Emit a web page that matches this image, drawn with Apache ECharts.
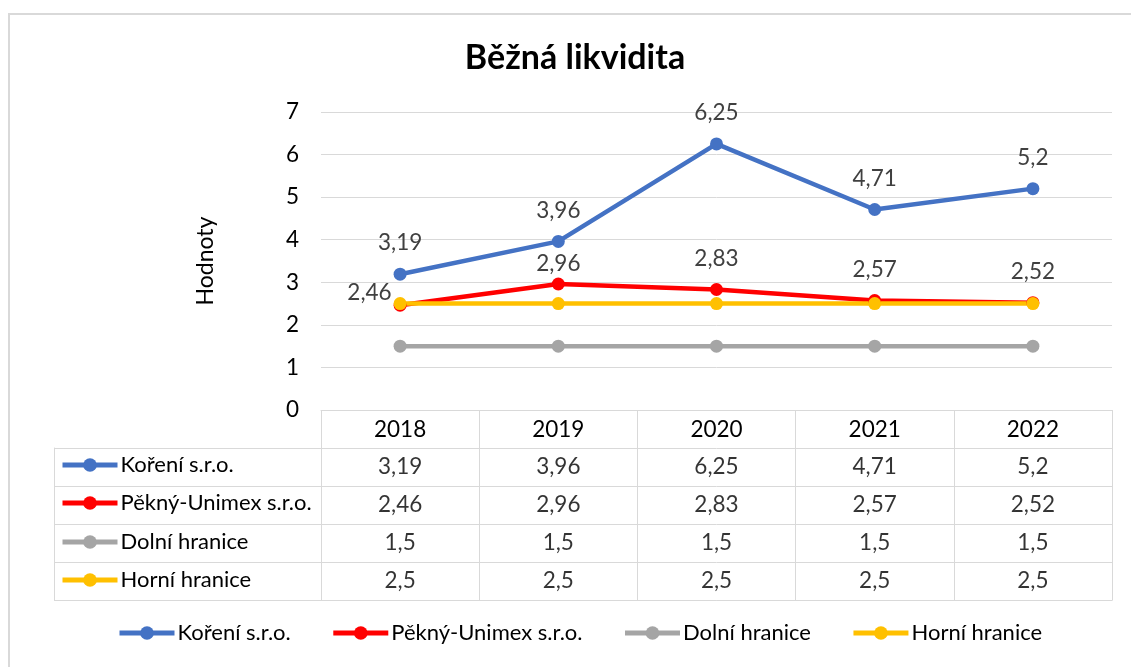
<!DOCTYPE html>
<html>
<head>
<meta charset="utf-8">
<script src="https://cdn.jsdelivr.net/npm/echarts@6/dist/echarts.min.js"></script>
<style>
  html, body { margin: 0; padding: 0; background: #fff; }
  #frame { position: absolute; left: 8px; top: 13px; width: 1200px; height: 700px; border: 2px solid #d9d9d9; box-sizing: border-box; }
  #main { position: absolute; left: 0; top: 0; width: 1131px; height: 667px; }
</style>
</head>
<body>
<div id="frame"></div>
<div id="main"></div>
<script>
// data
var years = ['2018', '2019', '2020', '2021', '2022'];
var seriesNames = ['Koření s.r.o.', 'Pěkný-Unimex s.r.o.', 'Dolní hranice', 'Horní hranice'];
var koreni = [3.19, 3.96, 6.25, 4.71, 5.2];
var pekny = [2.46, 2.96, 2.83, 2.57, 2.52];
var dolni = [1.5, 1.5, 1.5, 1.5, 1.5];
var horni = [2.5, 2.5, 2.5, 2.5, 2.5];
var yTicks = [0, 1, 2, 3, 4, 5, 6, 7];

var colors = ['#4472C4', '#FF0000', '#A5A5A5', '#FFC000'];
var allValues = [koreni, pekny, dolni, horni];
var FONT = 'Lato';
var FS = 22.5;
var gridColor = '#d9d9d9';

function fmt(v) { return String(v).replace('.', ','); }

// cells of the data table: [yearIndex, rowIndex, value]
var tableCells = [];
allValues.forEach(function (vals, r) {
  vals.forEach(function (v, c) { tableCells.push([c, r, v]); });
});

var rowCenters = [466, 504, 543, 581];

var myChart = echarts.init(document.getElementById('main'));

var lineSeries = allValues.map(function (vals, i) {
  var s = {
    name: seriesNames[i],
    type: 'line',
    xAxisIndex: 0,
    yAxisIndex: 0,
    data: vals,
    symbol: 'circle',
    symbolSize: 13,
    lineStyle: { width: 4.5, color: colors[i] },
    itemStyle: { color: colors[i] },
    label: { show: false }
  };
  if (i === 0) {
    s.label = { show: true, position: 'top', distance: 13, fontFamily: FONT, fontSize: FS, color: '#404040', formatter: function (p) { return fmt(p.value); } };
  }
  if (i === 1) {
    s.label = { show: true, position: 'top', distance: 13, fontFamily: FONT, fontSize: FS, color: '#404040', formatter: function (p) { return fmt(p.value); } };
    s.data = vals.map(function (v, k) {
      if (k === 0) return { value: v, label: { position: 'left', distance: 2, offset: [0, -13] } };
      if (k === 1) return { value: v, label: { distance: 2 } };
      return v;
    });
  }
  return s;
});

var legendCommon = {
  selectedMode: false,
  padding: 0,
  itemWidth: 55,
  itemHeight: 17,
  lineStyle: { width: 5 },
  textStyle: { fontFamily: FONT, fontSize: 22, color: '#000', padding: [0, 0, 0, -2] }
};

var rowLegends = seriesNames.map(function (n, i) {
  return Object.assign({}, legendCommon, {
    data: [n],
    left: 60,
    top: rowCenters[i] - 12
  });
});

myChart.setOption({
  animation: false,
  title: {
    text: 'Běžná likvidita',
    left: 570,
    textAlign: 'center',
    top: 36,
    textStyle: { fontFamily: FONT, fontSize: 34, fontWeight: 'bold', color: '#000' }
  },
  legend: [Object.assign({}, legendCommon, {
    data: seriesNames,
    left: 117,
    top: 622,
    itemGap: 40
  })].concat(rowLegends),
  grid: [
    { left: 321, right: 19, top: 112, height: 298 },
    { left: 321, right: 19, top: 448, height: 152 }
  ],
  xAxis: [{
    gridIndex: 0,
    type: 'category',
    data: years,
    boundaryGap: true,
    axisLine: { lineStyle: { color: gridColor, width: 1 } },
    axisTick: { show: true, length: 38, interval: 0, lineStyle: { color: gridColor } },
    axisLabel: { fontFamily: FONT, fontSize: FS, color: '#000', margin: 8 },
    splitLine: { show: false }
  }, {
    gridIndex: 1,
    type: 'category',
    data: years,
    boundaryGap: true,
    axisLine: { show: true, lineStyle: { color: gridColor } },
    axisTick: { show: false },
    axisLabel: { show: false },
    splitLine: { show: true, interval: 0, lineStyle: { color: gridColor } }
  }],
  yAxis: [{
    gridIndex: 0,
    type: 'value',
    min: yTicks[0],
    max: yTicks[yTicks.length - 1],
    interval: 1,
    name: 'Hodnoty',
    nameLocation: 'middle',
    nameRotate: 90,
    nameGap: 104,
    nameTextStyle: { fontFamily: FONT, fontSize: 23, color: '#000' },
    axisLine: { show: false },
    axisTick: { show: false },
    axisLabel: { fontFamily: FONT, fontSize: FS, color: '#000', margin: 22 },
    splitLine: { lineStyle: { color: gridColor, width: 1 } }
  }, {
    gridIndex: 1,
    type: 'category',
    data: seriesNames,
    inverse: true,
    axisLine: { show: true, lineStyle: { color: gridColor } },
    axisTick: { show: true, length: 267, interval: 0, lineStyle: { color: gridColor } },
    axisLabel: { show: false },
    splitLine: { show: true, interval: 0, lineStyle: { color: gridColor } }
  }, {
    gridIndex: 1,
    type: 'category',
    data: seriesNames,
    inverse: true,
    position: 'left',
    offset: 267,
    axisLine: { show: true, lineStyle: { color: gridColor } },
    axisTick: { show: false },
    axisLabel: { show: false }
  }, {
    gridIndex: 1,
    type: 'category',
    data: seriesNames,
    inverse: true,
    position: 'right',
    axisLine: { show: true, lineStyle: { color: gridColor } },
    axisTick: { show: false },
    axisLabel: { show: false }
  }],
  series: lineSeries.concat([{
    name: 'table',
    type: 'scatter',
    xAxisIndex: 1,
    yAxisIndex: 1,
    data: tableCells,
    symbolSize: 1,
    itemStyle: { color: 'transparent' },
    label: {
      show: true,
      position: 'inside',
      fontFamily: FONT,
      fontSize: FS,
      color: '#000',
      formatter: function (p) { return fmt(p.value[2]); }
    },
    silent: true
  }])
});
</script>
</body>
</html>
